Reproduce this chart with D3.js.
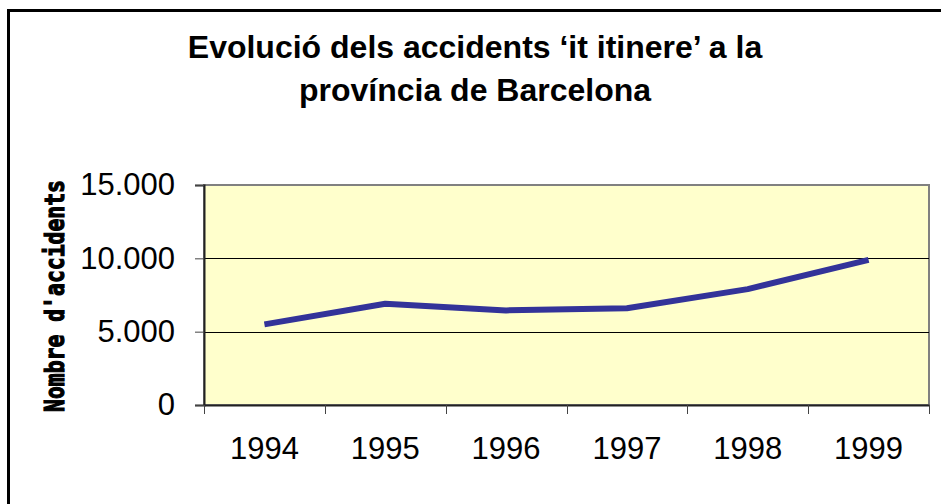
<!DOCTYPE html>
<html>
<head>
<meta charset="utf-8">
<script src="https://cdn.jsdelivr.net/npm/d3@7"></script>
<style>
  html, body { margin: 0; padding: 0; background: #fff; overflow: hidden; }
  text { font-family: "Liberation Sans", Arial, sans-serif; }
</style>
</head>
<body>
<div id="chart"></div>
<script>
// data
const years = ['1994', '1995', '1996', '1997', '1998', '1999'];
const accidents = [5500, 6900, 6450, 6600, 7900, 9900];
const yTicks = [0, 5000, 10000, 15000];
const titleLines = ['Evolució dels accidents ‘it itinere’ a la', 'província de Barcelona'];
const yTitle = "Nombre d'accidents";

const W = 941, H = 504;
const margin = {top: 185, right: 12, bottom: 99, left: 204};
const width = W - margin.left - margin.right,
      height = H - margin.top - margin.bottom;

const svg = d3.select('#chart')
    .append('svg')
    .attr('width', W)
    .attr('height', H);

// outer frame (only left and top are in the picture)
svg.append('rect')
    .attr('x', 8.5)
    .attr('y', 10.5)
    .attr('width', W + 20)
    .attr('height', H + 20)
    .attr('fill', 'none')
    .attr('stroke', '#000')
    .attr('stroke-width', 3);

// title
svg.append('text')
    .attr('x', 475)
    .attr('y', 58)
    .attr('text-anchor', 'middle')
    .style('font-size', '32px')
    .style('font-weight', 'bold')
    .selectAll('tspan')
    .data(titleLines)
    .enter().append('tspan')
    .attr('x', 475)
    .attr('dy', (d, i) => i === 0 ? 0 : 43)
    .text(d => d);

const g = svg.append('g')
    .attr('transform', 'translate(' + margin.left + ',' + margin.top + ')');

const x = d3.scaleBand()
    .domain(years)
    .range([0, width]);

const y = d3.scaleLinear()
    .domain([0, 15000])
    .range([height, 0]);

// plot area
g.append('rect')
    .attr('width', width)
    .attr('height', height)
    .attr('fill', '#FFFFCC')
    .attr('stroke', '#808080')
    .attr('stroke-width', 2);

// gridlines
g.selectAll('.grid')
    .data(yTicks.filter(d => d > 0 && d < 15000))
    .enter().append('line')
    .attr('class', 'grid')
    .attr('x1', 0)
    .attr('x2', width)
    .attr('y1', d => Math.round(y(d)) + 0.5)
    .attr('y2', d => Math.round(y(d)) + 0.5)
    .attr('stroke', '#000')
    .attr('stroke-width', 1);

// axes
const fmt = d => d3.format(',')(d).replace(/,/g, '.');
const yAxis = g.append('g')
    .attr('class', 'axis axis-y')
    .call(d3.axisLeft(y).tickValues(yTicks).tickFormat(fmt).tickSize(9).tickPadding(20));

const xAxis = g.append('g')
    .attr('class', 'axis axis-x')
    .attr('transform', 'translate(0,' + height + ')')
    .call(d3.axisBottom(x).tickSize(0).tickPadding(32));

// x ticks sit on the category boundaries
xAxis.selectAll('.bound')
    .data(d3.range(years.length + 1))
    .enter().append('line')
    .attr('class', 'bound')
    .attr('x1', i => Math.round(i * x.step()) + 0.5)
    .attr('x2', i => Math.round(i * x.step()) + 0.5)
    .attr('y1', 0)
    .attr('y2', 9)
    .attr('stroke', '#444');

svg.selectAll('.axis path').attr('stroke', '#222').attr('stroke-width', 2);
svg.selectAll('.axis .tick line').attr('stroke', '#444');
svg.selectAll('.axis text')
    .attr('fill', '#000')
    .style('font-family', '"Liberation Sans", Arial, sans-serif')
    .style('font-size', '31px');

// line
const line = d3.line()
    .x((d, i) => x(years[i]) + x.bandwidth() / 2)
    .y(d => y(d));

g.append('path')
    .datum(accidents)
    .attr('d', line)
    .attr('fill', 'none')
    .attr('stroke', '#333399')
    .attr('stroke-width', 6)
    .attr('stroke-linejoin', 'round');

// y axis title (blocky and heavy in the original)
svg.append('text')
    .attr('transform', 'translate(64,296) rotate(-90)')
    .attr('text-anchor', 'middle')
    .attr('textLength', 232)
    .attr('lengthAdjust', 'spacingAndGlyphs')
    .attr('stroke', '#000')
    .attr('stroke-width', 1.2)
    .style('font-family', '"DejaVu Sans Mono", monospace')
    .style('font-weight', 'bold')
    .style('font-size', '26px')
    .text(yTitle);
</script>
</body>
</html>
